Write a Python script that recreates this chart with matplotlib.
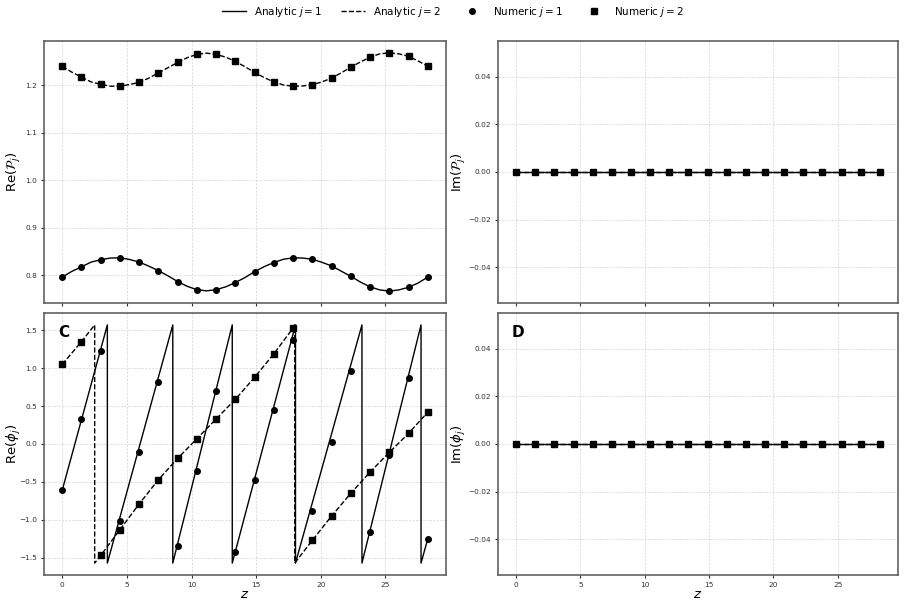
import numpy as np
import matplotlib
matplotlib.use("Agg")
import matplotlib.pyplot as plt
from matplotlib.lines import Line2D

# ---------------- data ----------------
# numeric sample positions (20 points from 0 to ~28.27)
z_num = np.linspace(0, 28.27, 20)

P1_num = [0.7965, 0.818, 0.833, 0.837, 0.828, 0.810, 0.787, 0.770, 0.770, 0.785,
          0.808, 0.827, 0.837, 0.834, 0.820, 0.798, 0.776, 0.767, 0.775, 0.7965]
P2_num = [1.240, 1.217, 1.202, 1.198, 1.206, 1.226, 1.248, 1.265, 1.265, 1.250,
          1.227, 1.207, 1.198, 1.201, 1.215, 1.238, 1.259, 1.268, 1.261, 1.240]

# analytic curves sampled at twice the density
z_ana = np.linspace(0, 28.27, 39)
P1_ana = [0.7965, 0.8085, 0.818, 0.828, 0.833, 0.8365, 0.837, 0.8335, 0.828, 0.8195,
          0.810, 0.799, 0.787, 0.777, 0.770, 0.7675, 0.770, 0.776, 0.785, 0.7955,
          0.808, 0.8185, 0.827, 0.834, 0.837, 0.8365, 0.834, 0.8275, 0.820, 0.809,
          0.798, 0.786, 0.776, 0.7695, 0.767, 0.7695, 0.775, 0.784, 0.7965]
P2_ana = [1.240, 1.2275, 1.217, 1.207, 1.202, 1.198, 1.198, 1.2015, 1.206, 1.215,
          1.226, 1.237, 1.248, 1.258, 1.265, 1.2675, 1.265, 1.259, 1.250, 1.239,
          1.227, 1.216, 1.207, 1.2005, 1.198, 1.1985, 1.201, 1.207, 1.215, 1.226,
          1.238, 1.249, 1.259, 1.266, 1.268, 1.266, 1.261, 1.251, 1.240]

phi1_num = [-0.61, 0.33, 1.23, -1.02, -0.10, 0.82, -1.35, -0.36, 0.70, -1.43,
            -0.47, 0.45, 1.37, -0.88, 0.03, 0.96, -1.16, -0.15, 0.87, -1.25]
phi2_num = [1.05, 1.35, -1.47, -1.13, -0.79, -0.47, -0.19, 0.07, 0.33, 0.59,
            0.88, 1.19, 1.53, -1.27, -0.95, -0.65, -0.37, -0.11, 0.14, 0.42]

# analytic phases (wrapped), break points
phi1_ana_z = [0.0, 3.49, 3.49, 8.55, 8.55, 13.15, 13.15, 18.04, 18.04, 23.18, 23.18,
              27.75, 27.75, 28.27]
phi1_ana_v = [-0.61, 1.5708, -1.5708, 1.5708, -1.5708, 1.5708, -1.5708, 1.5708,
              -1.5708, 1.5708, -1.5708, 1.5708, -1.5708, -1.25]
phi2_ana_z = [0.0, 1.488, 2.51, 2.51, 2.976, 4.464, 5.952, 7.44, 8.928, 10.416,
              11.904, 13.392, 14.88, 16.368, 17.856, 17.98, 17.98, 19.344, 20.832,
              22.32, 23.808, 25.296, 26.784, 28.27]
phi2_ana_v = [1.05, 1.35, 1.5708, -1.5708, -1.47, -1.13, -0.79, -0.47, -0.19, 0.07,
              0.33, 0.59, 0.88, 1.19, 1.53, 1.5708, -1.5708, -1.27, -0.95, -0.65,
              -0.37, -0.11, 0.14, 0.42]

imag_zero = [0.0] * 20

# ---------------- plot ----------------
fig = plt.figure(figsize=(9.06, 6.06), dpi=100)
W, H = 906, 606
def ax_at(x0, y0, x1, y1):
    return fig.add_axes([x0 / W, 1 - y1 / H, (x1 - x0) / W, (y1 - y0) / H])

axA = ax_at(44, 41, 446, 303)
axB = ax_at(498, 41, 898, 303)
axC = ax_at(44, 313, 446, 575)
axD = ax_at(498, 313, 898, 575)

lw = 1.0
ms = 4
for ax in (axA, axB, axC, axD):
    ax.grid(True, ls=(0, (3, 2)), lw=0.5, color='#d0d0d0')
    ax.set_axisbelow(True)
    ax.tick_params(labelsize=5.3, colors='#333333', length=2.5, width=0.8, pad=2.5)
    for s in ax.spines.values():
        s.set_color('#555555')
        s.set_linewidth(1.1)

ylab_fs = 9.5
# A
axA.plot(z_ana, P1_ana, '-', color='k', lw=lw)
axA.plot(z_ana, P2_ana, '--', color='k', lw=lw)
axA.plot(z_num, P1_num, 'o', color='k', ms=ms)
axA.plot(z_num, P2_num, 's', color='k', ms=ms)
axA.set_ylabel(r'Re$(\mathcal{P}_j)$', fontsize=ylab_fs)

# B
axB.plot(z_num, imag_zero, '-', color='k', lw=lw)
axB.plot(z_num, imag_zero, '--', color='k', lw=lw)
axB.plot(z_num, imag_zero, 'o', color='k', ms=ms)
axB.plot(z_num, imag_zero, 's', color='k', ms=ms)
axB.set_ylabel(r'Im$(\mathcal{P}_j)$', fontsize=ylab_fs)

# C
axC.plot(phi1_ana_z, phi1_ana_v, '-', color='k', lw=lw)
axC.plot(phi2_ana_z, phi2_ana_v, '--', color='k', lw=lw)
axC.plot(z_num, phi1_num, 'o', color='k', ms=ms)
axC.plot(z_num, phi2_num, 's', color='k', ms=ms)
axC.set_ylabel(r'Re$(\phi_j)$', fontsize=ylab_fs)
axC.set_xlabel(r'$z$', fontsize=ylab_fs, labelpad=0)
axC.text(0.035, 0.925, 'C', transform=axC.transAxes, fontsize=11,
         fontweight='bold', va='center', ha='left')

# D
axD.plot(z_num, imag_zero, '-', color='k', lw=lw)
axD.plot(z_num, imag_zero, '--', color='k', lw=lw)
axD.plot(z_num, imag_zero, 'o', color='k', ms=ms)
axD.plot(z_num, imag_zero, 's', color='k', ms=ms)
axD.set_ylabel(r'Im$(\phi_j)$', fontsize=ylab_fs)
axD.set_xlabel(r'$z$', fontsize=ylab_fs, labelpad=0)
axD.text(0.035, 0.925, 'D', transform=axD.transAxes, fontsize=11,
         fontweight='bold', va='center', ha='left')

for ax in (axA, axC):
    ax.yaxis.set_label_coords(-0.052, 0.5)
for ax in (axB, axD):
    ax.yaxis.set_label_coords(-0.075, 0.5)

for ax in (axA, axB, axC, axD):
    ax.set_xlim(-1.41, 29.68)
    ax.set_xticks([0, 5, 10, 15, 20, 25])
for ax in (axA, axB):
    ax.tick_params(labelbottom=False)

axA.set_yticks([0.8, 0.9, 1.0, 1.1, 1.2])
axC.set_yticks([-1.5, -1.0, -0.5, 0.0, 0.5, 1.0, 1.5])
for ax in (axB, axD):
    ax.set_ylim(-0.055, 0.055)
    ax.set_yticks([-0.04, -0.02, 0.0, 0.02, 0.04])

handles = [
    Line2D([], [], color='k', ls='-', lw=lw),
    Line2D([], [], color='k', ls='--', lw=lw),
    Line2D([], [], color='k', ls='', marker='o', ms=ms),
    Line2D([], [], color='k', ls='', marker='s', ms=ms),
]
labels = [r'Analytic $j=1$', r'Analytic $j=2$', r'Numeric $j=1$', r'Numeric $j=2$']
fig.legend(handles, labels, loc='upper center', bbox_to_anchor=(0.5, 1.008),
           ncol=4, frameon=False, fontsize=7.5, columnspacing=1.8, handlelength=2.3,
           handletextpad=0.8)

fig.savefig('out.png', dpi=100)
